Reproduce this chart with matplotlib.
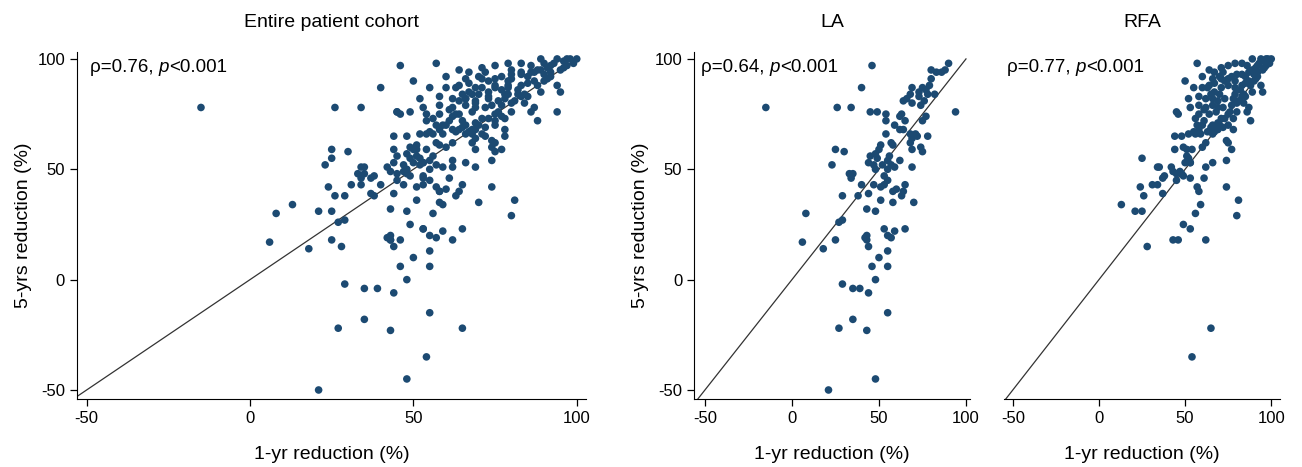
import matplotlib
matplotlib.use("Agg")
import matplotlib.pyplot as plt

plt.rcParams["font.family"] = ["Liberation Sans", "DejaVu Sans"]
plt.rcParams["axes.unicode_minus"] = False

# LA group: (1-yr reduction, 5-yrs reduction) in %
la_x = [46, -15, 26, 34, 40, 90, 80, 83, 86, 88, 80, 94, 45, 49, 54, 54, 25, 30, 23,
        69, 68, 73, 75, 77, 79, 73, 78, 76, 82, 64, 66, 69, 74, 63, 62, 65, 59, 62, 64,
        54, 68, 71, 69, 72, 78, 57, 58, 68, 69, 74, 75, 51, 50, 48, 45, 44, 49, 52, 55,
        56, 47, 57, 59, 62, 69, 53, 35, 75, 77, 55, 48,
        33, 34, 40, 47, 51, 53, 55, 58, 60, 64, 65, 63, 29, 38, 44, 51, 58, 70, 43, 48,
        8, 27, 29, 53, 59, 65, 55, 57, 6, 25, 42, 43, 43, 18, 44, 55, 50, 46, 55, 48,
        29, 35, 39, 44, 55, 35, 27, 43, 48, 21]
la_y = [97, 78, 78, 78, 87, 98, 95, 94, 94, 95, 91, 76, 76, 76, 75, 72, 59, 58, 52,
        87, 84, 85, 87, 86, 88, 83, 84, 81, 84, 81, 82, 80, 79, 75, 74, 72, 70, 68, 68,
        66, 66, 66, 64, 65, 65, 62, 61, 62, 59, 60, 58, 61, 59, 57, 56, 53, 55, 52, 54,
        56, 52, 52, 51, 54, 51, 47, 48, 72, 74, 50, 50,
        48, 46, 43, 43, 42, 43, 45, 40, 41, 40, 43, 38, 38, 38, 39, 36, 35, 35, 32, 31,
        30, 26, 27, 23, 22, 23, 20, 19, 17, 18, 19, 18, 20, 14, 15, 13, 10, 6, 6, 0,
        -2, -4, -4, -6, -15, -18, -22, -23, -45, -50]

# RFA group
rfa_x = [57, 50, 52, 58, 62, 45, 46, 53, 25, 35, 42, 44, 51, 44, 48, 52, 56, 58, 62, 77,
         74, 64, 67, 71, 75, 79, 83, 89, 94, 97, 66, 75, 79, 83, 87, 91, 93, 94, 95, 87,
         88, 75, 78, 60, 64, 67, 71, 75, 79, 83, 87, 66, 69, 73, 77, 81, 64, 68, 71, 75,
         60, 66, 69, 56, 79, 85, 89, 61, 72, 63, 67, 86, 55, 59, 63, 67, 57, 61, 65, 69,
         72, 78, 49, 54, 51, 53, 50, 66, 74, 75, 34, 37, 43, 47, 61, 49, 53, 31, 34, 57,
         74, 45, 38, 52, 24, 26, 37, 58, 13, 21, 25, 59, 56, 81, 80, 49, 53, 43, 46, 62,
         28, 65, 54,
         85, 90, 92, 96, 98, 99, 86, 80, 77, 73, 70, 82, 78, 84, 80, 72, 70, 62, 58, 65,
         90, 92, 88, 84, 76, 68, 73, 62, 66, 70, 60, 48, 53, 45, 80, 83, 91, 96, 100, 95,
         60, 55, 92, 97, 89, 85, 71, 66, 58, 69]
rfa_y = [98, 90, 82, 83, 82, 76, 75, 78, 55, 51, 51, 59, 59, 65, 65, 66, 66, 68, 51, 59,
         63, 95, 94, 96, 97, 98, 98, 100, 100, 100, 91, 91, 90, 93, 94, 96, 98, 88, 85, 78,
         72, 70, 68, 87, 88, 85, 87, 88, 87, 88, 90, 79, 81, 82, 79, 81, 75, 76, 73, 75,
         70, 70, 68, 73, 84, 83, 85, 77, 94, 87, 89, 76, 67, 66, 67, 67, 70, 72, 69, 71,
         69, 73, 60, 59, 56, 53, 53, 53, 54, 62, 51, 46, 49, 49, 46, 47, 46, 43, 43, 42,
         42, 48, 47, 55, 42, 38, 39, 40, 34, 31, 31, 34, 30, 36, 29, 25, 23, 18, 18, 18,
         15, -22, -35,
         92, 93, 97, 99, 100, 98, 97, 93, 92, 90, 92, 86, 82, 80, 76, 78, 84, 78, 75, 84,
         90, 92, 88, 84, 76, 68, 73, 62, 66, 70, 60, 48, 53, 45, 80, 83, 91, 96, 100, 95,
         92, 87, 94, 97, 95, 89, 91, 82, 79, 78]

# entire cohort = both groups together
all_x = la_x + rfa_x
all_y = la_y + rfa_y

titles = ["Entire patient cohort", "LA", "RFA"]
rhos = ["0.76", "0.64", "0.77"]

DOT = "#1c4a72"

fig = plt.figure(figsize=(13.02, 4.67), dpi=100)
# axes boxes in figure fractions (left, bottom, width, height)
boxes = [
    (0.059, 0.146, 0.391, 0.742),
    (0.533, 0.146, 0.212, 0.742),
    (0.771, 0.146, 0.212, 0.742),
]
xlims = [(-53, 102.8), (-56.3, 102.3), (-55.2, 105)]
datasets = [(all_x, all_y), (la_x, la_y), (rfa_x, rfa_y)]

for i, (box, (xs, ys)) in enumerate(zip(boxes, datasets)):
    ax = fig.add_axes(box)
    ax.scatter(xs, ys, s=30, color=DOT, edgecolors="none", zorder=3)
    ax.plot([-54, 100], [-54, 100], color="#333333", lw=0.9, zorder=2)
    ax.set_xlim(*xlims[i])
    ax.set_ylim(-54, 103)
    ax.set_xticks([-50, 0, 50, 100])
    ax.set_yticks([-50, 0, 50, 100])
    for s in ["top", "right"]:
        ax.spines[s].set_visible(False)
    ax.tick_params(labelsize=12, length=5, width=0.9, direction="out")
    if i == 2:
        ax.spines["left"].set_visible(False)
        ax.tick_params(axis="y", left=False, labelleft=False)
    else:
        ax.set_ylabel("5-yrs reduction (%)", fontsize=14)
    ax.set_xlabel("1-yr reduction (%)", fontsize=14)
    ax.xaxis.set_label_coords(0.5, -0.135)
    ax.set_title(titles[i], fontsize=14, pad=18)

    # "ρ=..., p<0.001" with italic p
    x0 = 0.025 if i < 2 else 0.01
    a = ax.annotate("ρ=" + rhos[i] + ", ", xy=(x0, 0.955),
                    xycoords="axes fraction", fontsize=13.5,
                    va="center", ha="left")
    b = ax.annotate("p", xy=(1, 0.5), xycoords=a, fontsize=13.5,
                    va="center", ha="left", style="italic")
    ax.annotate("<0.001", xy=(1, 0.5), xycoords=b, fontsize=13.5,
                va="center", ha="left")

fig.savefig("out.png", dpi=100)
